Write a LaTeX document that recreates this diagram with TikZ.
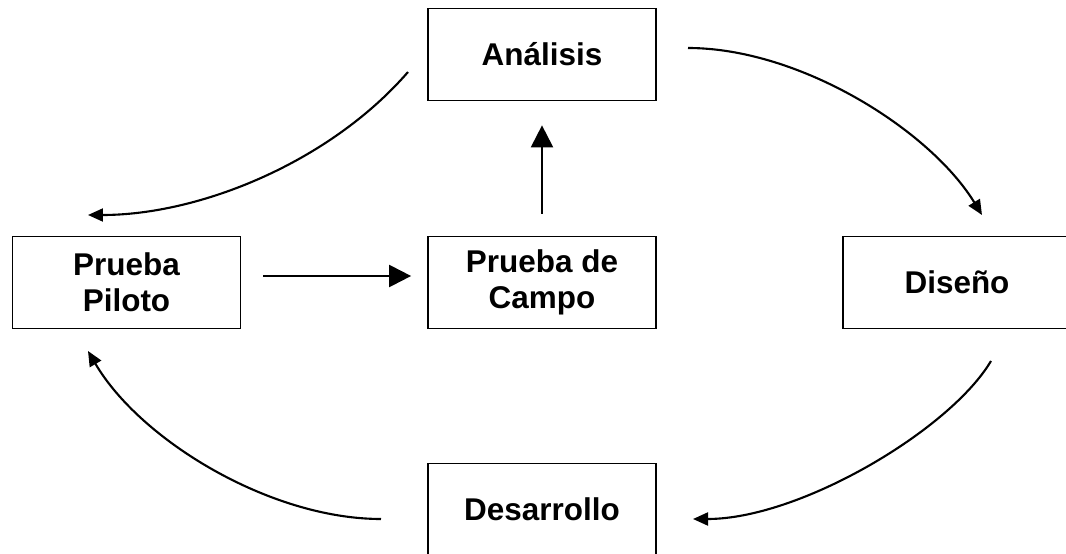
\documentclass[tikz,border=0pt]{standalone}
\usepackage{fontspec}
\setmainfont{Liberation Sans}
\usetikzlibrary{arrows.meta}

\begin{document}
\begin{tikzpicture}[x=0.02cm, y=-0.02cm,
  box/.style={draw, line width=1pt, minimum width=4.56cm, minimum height=1.84cm,
    align=center, font=\fontsize{17.9}{20.5}\selectfont\bfseries},
  flow/.style={line width=1.2pt, -{Triangle[length=0.3cm, width=0.26cm]}},
  bigflow/.style={line width=1.2pt, -{Triangle[length=0.44cm, width=0.44cm]}}]
\useasboundingbox (0,0) rectangle (1066,554);

\node[box] (ana) at (542,54.5) {Análisis};
\node[box] (pil) at (126.5,282.5) {Prueba\\Piloto};
\node[box] (cam) at (542,282.5) {Prueba de\\Campo};
\node[box] (dis) at (957,282.5) {Diseño};
\node[box] (des) at (542,509.5) {Desarrollo};

% straight ones
\draw[bigflow, shorten <=0.44cm, shorten >=0.32cm] ([yshift=0.13cm]pil.east) -- ([yshift=0.13cm]cam.west);
\draw[bigflow, shorten <=0.44cm, shorten >=0.48cm] (cam.north) -- (ana.south);

% the cycle
\coordinate (a1) at (408,72);  \coordinate (a2) at (88,215);
\coordinate (b1) at (688,48);  \coordinate (b2) at (982,215);
\coordinate (c1) at (991,361); \coordinate (c2) at (693,519);
\coordinate (d1) at (381,519); \coordinate (d2) at (88,351);

\draw[flow] (a1) .. controls (330,162) and (200,215) .. (a2);
\draw[flow] (b1) .. controls (800,48) and (930,130) .. (b2);
\draw[flow] (c1) .. controls (950,430) and (800,519) .. (c2);
\draw[flow] (d1) .. controls (270,519) and (140,440) .. (d2);

\end{tikzpicture}
\end{document}
